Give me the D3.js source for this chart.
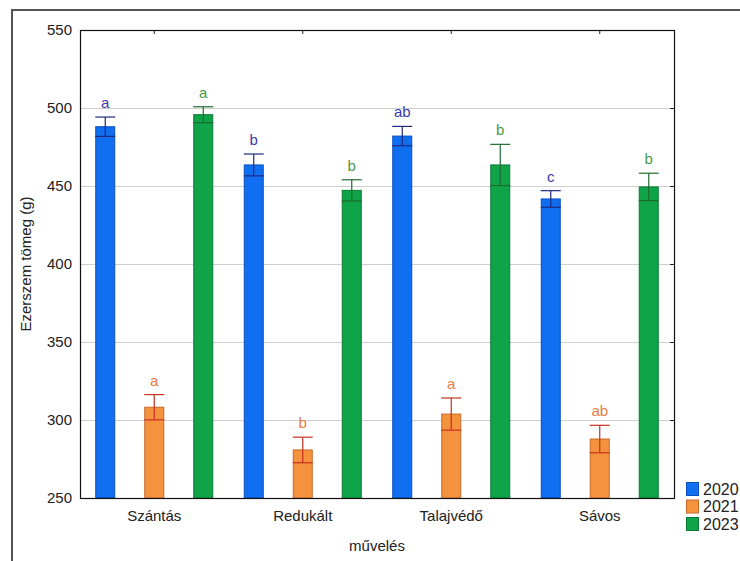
<!DOCTYPE html>
<html>
<head>
<meta charset="utf-8">
<script src="https://cdn.jsdelivr.net/npm/d3@7"></script>
<style>
  html, body { margin: 0; padding: 0; background: #fff; }
  svg { display: block; font-family: Arial, "Liberation Sans", sans-serif; }
</style>
</head>
<body>
<div id="chart"></div>
<script>
// ---- data ----
const categories = ["Szántás", "Redukált", "Talajvédő", "Sávos"];
const years = ["2020", "2021", "2023"];
const means2020 = [488, 463.5, 482, 441.7];
const errs2020  = [6.2, 7, 6.2, 5.3];
const letters2020 = ["a", "b", "ab", "c"];
const means2021 = [308.2, 280.8, 303.8, 287.8];
const errs2021  = [8.1, 8.2, 10.3, 8.8];
const letters2021 = ["a", "b", "a", "ab"];
const means2023 = [495.7, 447.2, 463.5, 449.4];
const errs2023  = [5.1, 6.8, 13.2, 8.8];
const letters2023 = ["a", "b", "b", "b"];
const yTicks = [250, 300, 350, 400, 450, 500, 550];

const series = [
  { year: "2020", means: means2020, errs: errs2020, letters: letters2020,
    fill: "#0f6ff0", stroke: "#0a4fc0", err: "#1c2a80", letter: "#3a3aa8" },
  { year: "2021", means: means2021, errs: errs2021, letters: letters2021,
    fill: "#f5923e", stroke: "#c86a28", err: "#c83020", letter: "#e87a48" },
  { year: "2023", means: means2023, errs: errs2023, letters: letters2023,
    fill: "#10a448", stroke: "#0a7a34", err: "#1f6b30", letter: "#4a9a4a" }
];

const W = 740, H = 561;
const plot = { left: 80, top: 30, right: 674, bottom: 498 };

const svg = d3.select("#chart").append("svg").attr("width", W).attr("height", H);
svg.append("rect").attr("width", W).attr("height", H).attr("fill", "#fff");

// outer frame (left & top visible)
svg.append("rect").attr("x", 12).attr("y", 10).attr("width", W).attr("height", H)
  .attr("fill", "none").attr("stroke", "#555").attr("stroke-width", 2);

const x0 = d3.scaleBand().domain(categories).range([plot.left, plot.right]).paddingInner(0).paddingOuter(0);
const y = d3.scaleLinear().domain([250, 550]).range([plot.bottom, plot.top]);
const offset = d3.scalePoint().domain(years).range([-49, 49]);
const barW = 20;

// grid lines
svg.append("g").selectAll("line").data(yTicks.filter(t => t > 250 && t < 550)).join("line")
  .attr("x1", plot.left).attr("x2", plot.right)
  .attr("y1", d => y(d) + 0.5).attr("y2", d => y(d) + 0.5)
  .attr("stroke", "#cfcfcf").attr("stroke-width", 1);

// y axis labels
const yAxis = d3.axisLeft(y).tickValues(yTicks).tickSize(0).tickPadding(8);
const gy = svg.append("g").attr("transform", `translate(${plot.left},0)`).call(yAxis);
gy.select(".domain").remove();
gy.selectAll("text").attr("font-size", 15).attr("fill", "#222")
  .attr("font-family", "Arial, 'Liberation Sans', sans-serif");

// x axis labels
const xAxis = d3.axisBottom(x0).tickSize(0).tickPadding(12);
const gx = svg.append("g").attr("transform", `translate(0,${plot.bottom})`).call(xAxis);
gx.select(".domain").remove();
gx.selectAll("text").attr("font-size", 15).attr("fill", "#222")
  .attr("font-family", "Arial, 'Liberation Sans', sans-serif");

// inward ticks: bottom & top at category centers, right at y ticks
svg.append("g").selectAll("line").data(categories).join("line")
  .attr("x1", d => x0(d) + x0.bandwidth() / 2).attr("x2", d => x0(d) + x0.bandwidth() / 2)
  .attr("y1", plot.bottom).attr("y2", plot.bottom - 4).attr("stroke", "#222");
svg.append("g").selectAll("line").data(categories).join("line")
  .attr("x1", d => x0(d) + x0.bandwidth() / 2).attr("x2", d => x0(d) + x0.bandwidth() / 2)
  .attr("y1", plot.top).attr("y2", plot.top + 4).attr("stroke", "#222");
svg.append("g").selectAll("line").data(yTicks).join("line")
  .attr("x1", plot.right).attr("x2", plot.right - 4)
  .attr("y1", d => y(d) + 0.5).attr("y2", d => y(d) + 0.5).attr("stroke", "#222");

// bars
series.forEach(s => {
  const g = svg.append("g");
  const cx = (i) => x0(categories[i]) + x0.bandwidth() / 2 + offset(s.year);
  const idx = d3.range(categories.length);
  g.selectAll("rect").data(idx).join("rect")
    .attr("x", i => cx(i) - barW / 2 + 0.5)
    .attr("y", i => y(s.means[i]))
    .attr("width", barW - 1)
    .attr("height", i => y(250) - y(s.means[i]))
    .attr("fill", s.fill).attr("stroke", s.stroke).attr("stroke-width", 1);
  // error bars
  const eg = g.append("g").attr("stroke", s.err).attr("stroke-width", 1.2);
  eg.selectAll(".v").data(idx).join("line").attr("class", "v")
    .attr("x1", cx).attr("x2", cx)
    .attr("y1", i => y(s.means[i] + s.errs[i])).attr("y2", i => y(s.means[i] - s.errs[i]));
  eg.selectAll(".t").data(idx).join("line").attr("class", "t")
    .attr("x1", i => cx(i) - barW / 2).attr("x2", i => cx(i) + barW / 2)
    .attr("y1", i => y(s.means[i] + s.errs[i])).attr("y2", i => y(s.means[i] + s.errs[i]));
  eg.selectAll(".b").data(idx).join("line").attr("class", "b")
    .attr("x1", i => cx(i) - barW / 2).attr("x2", i => cx(i) + barW / 2)
    .attr("y1", i => y(s.means[i] - s.errs[i])).attr("y2", i => y(s.means[i] - s.errs[i]));
  // letters
  g.selectAll("text").data(idx).join("text")
    .attr("x", cx)
    .attr("y", i => y(s.means[i] + s.errs[i]) - 9)
    .attr("text-anchor", "middle")
    .attr("font-size", 15)
    .attr("fill", s.letter)
    .text(i => s.letters[i]);
});

// plot frame
svg.append("rect").attr("x", plot.left + 0.5).attr("y", plot.top + 0.5)
  .attr("width", plot.right - plot.left).attr("height", plot.bottom - plot.top)
  .attr("fill", "none").attr("stroke", "#111").attr("stroke-width", 1.2);

// axis titles
svg.append("text").attr("x", (plot.left + plot.right) / 2).attr("y", 551)
  .attr("text-anchor", "middle").attr("font-size", 15).attr("fill", "#222").text("művelés");
svg.append("text")
  .attr("transform", `translate(31,${(plot.top + plot.bottom) / 2}) rotate(-90)`)
  .attr("text-anchor", "middle").attr("font-size", 15).attr("fill", "#222").text("Ezerszem tömeg (g)");

// legend
const lg = svg.append("g").attr("transform", "translate(686,482)");
series.forEach((s, i) => {
  const row = lg.append("g").attr("transform", `translate(0,${i * 17.5})`);
  row.append("rect").attr("x", 0.5).attr("y", 0.5).attr("width", 12).attr("height", 13)
    .attr("fill", s.fill).attr("stroke", s.stroke);
  row.append("text").attr("x", 17).attr("y", 12.5).attr("font-size", 16)
    .attr("fill", "#222").text(s.year);
});
</script>
</body>
</html>
